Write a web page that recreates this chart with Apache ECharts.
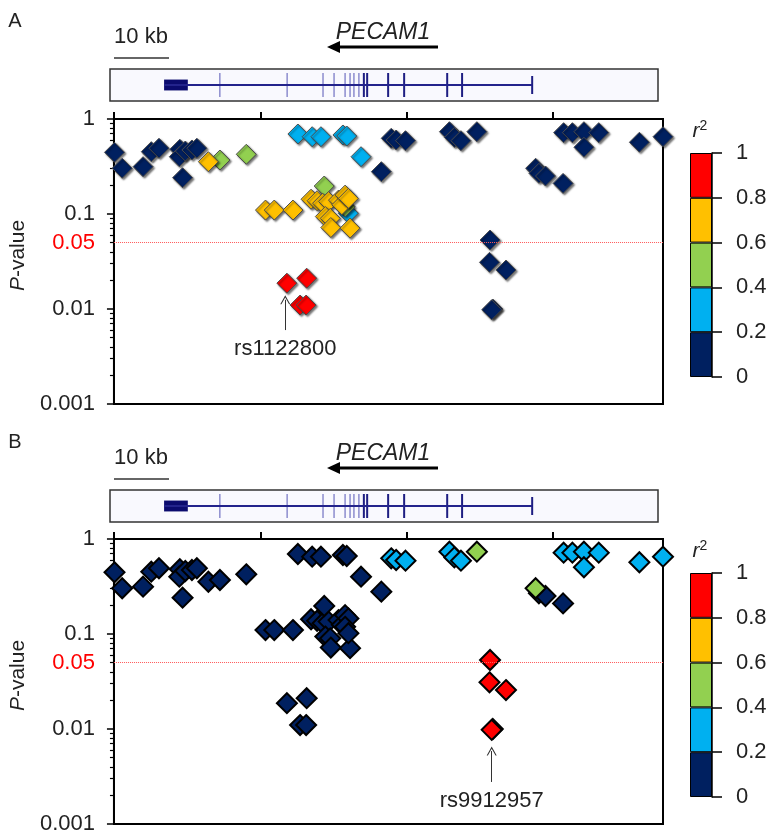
<!DOCTYPE html>
<html><head><meta charset="utf-8">
<script src="https://cdn.jsdelivr.net/npm/echarts@6/dist/echarts.min.js"></script>
<style>html,body{margin:0;padding:0;background:#fff}#c{width:771px;height:835px}</style>
</head><body><div id="c"></div><script>
// ---------- data ----------
const snpPosKb = [0.1,1.5,5.3,6.8,8.2,12.0,11.9,13.0,14.2,15.1,12.5,17.2,19.3,24.1,27.6,29.2,32.6,35.9,37.0,38.0,39.1,40.9,41.5,42.1,42.7,38.5,39.4,39.5,43.0,38.3,42.1,42.7,33.5,36.1,37.7,41.7,42.4,45.0,31.5,35.1,33.9,35.0,48.7,50.5,51.4,53.1,61.1,62.0,63.2,66.1,81.9,83.5,85.6,88.3,85.6,95.7,100.0,76.8,77.4,78.6,81.8,68.5,68.4,71.4,69.0,68.8];
const snpP = [0.446,0.303,0.315,0.453,0.492,0.480,0.401,0.46,0.472,0.492,0.241,0.355,0.370,0.425,0.110,0.110,0.110,0.143,0.138,0.130,0.135,0.140,0.125,0.158,0.146,0.094,0.090,0.072,0.071,0.197,0.119,0.102,0.695,0.651,0.651,0.679,0.662,0.401,0.0187,0.0211,0.0110,0.0110,0.279,0.626,0.601,0.591,0.735,0.64,0.591,0.735,0.718,0.718,0.735,0.718,0.504,0.569,0.651,0.303,0.268,0.251,0.210,0.0532,0.031,0.0257,0.0100,0.0098];
// r2 with rs1122800 (panel A) and with rs9912957 (panel B), bin mid-values
const r2PanelA = [0.1,0.1,0.1,0.1,0.1,0.1,0.1,0.1,0.1,0.1,0.1,0.7,0.5,0.5,0.7,0.7,0.7,0.7,0.7,0.7,0.7,0.7,0.7,0.7,0.7,0.7,0.7,0.7,0.7,0.5,0.5,0.3,0.3,0.3,0.3,0.3,0.3,0.3,0.9,0.9,0.9,0.9,0.1,0.1,0.1,0.1,0.1,0.1,0.1,0.1,0.1,0.1,0.1,0.1,0.1,0.1,0.1,0.1,0.1,0.1,0.1,0.1,0.1,0.1,0.1,0.1];
const r2PanelB = [0.1,0.1,0.1,0.1,0.1,0.1,0.1,0.1,0.1,0.1,0.1,0.1,0.1,0.1,0.1,0.1,0.1,0.1,0.1,0.1,0.1,0.1,0.1,0.1,0.1,0.1,0.1,0.1,0.1,0.1,0.1,0.1,0.1,0.1,0.1,0.1,0.1,0.1,0.1,0.1,0.1,0.1,0.1,0.3,0.3,0.3,0.3,0.3,0.3,0.5,0.3,0.3,0.3,0.3,0.3,0.3,0.3,0.5,0.1,0.1,0.1,0.9,0.9,0.9,0.9,0.9];
const r2BinEdges = [0,0.2,0.4,0.6,0.8,1];
const r2BinColors = ['#002060','#00B0F0','#92D050','#FFC000','#FF0000'];
const xTickKb = [0, 80/3, 160/3, 80];
const sigThreshold = 0.05;
const leadSnps = [
  {name:'rs1122800', kb:31.2, pTip:0.0125, pTail:0.0060},
  {name:'rs9912957', kb:68.8, pTip:0.00586, pTail:0.00277}
];
const geneSpanKb = [9.6, 76.3];
const utrBlockKb = [9.6, 13.9];
const lightExonKb = [19.7,31.9,38.4,40.4,42.4,43.3,44.0,44.9];
const darkExonKb = [45.8,46.4,50.2,53.1,60.9,63.6];
const geneEndKb = [76.3];
const panelLabels = ['A','B'];

// ---------- build ----------
const font = "'Liberation Sans', Arial, sans-serif";
const txt = '#222';
const chart = echarts.init(document.getElementById('c'), null, {renderer:'canvas'});
const grid=[], xAxis=[], yAxis=[], series=[], graphic=[], snpSeriesIdx=[];

function sortedData(r2){
  const idx = snpPosKb.map((_,i)=>i);
  idx.sort((a,b)=>(r2[a]-r2[b])||(a-b));
  return idx.map(i=>[snpPosKb[i], snpP[i], r2[i]]);
}

[0,1].forEach(p=>{
  const dy = p===0?0:420, dg = p===0?0:421;
  const r2 = p===0?r2PanelA:r2PanelB;
  const lead = leadSnps[p];
  const g0 = 3*p;
  // gene track
  grid.push({left:110, top:69+dg, width:548, height:32, show:true, backgroundColor:'#f9f9fe', borderColor:'#333', borderWidth:1.5});
  xAxis.push({gridIndex:g0, type:'value', min:-0.2, max:99.1, show:false});
  yAxis.push({gridIndex:g0, type:'value', min:-1, max:1, show:false});
  // plot
  grid.push({left:111, top:119+dy, width:552, height:285, show:true, borderColor:'#000', borderWidth:2});
  xAxis.push({gridIndex:g0+1, type:'value', min:0, max:100, interval:80/3, position:'top',
    axisLine:{show:true, lineStyle:{color:'#000', width:2}},
    axisTick:{show:true, inside:false, length:7, customValues:xTickKb, lineStyle:{color:'#000', width:2}},
    axisLabel:{show:false}, splitLine:{show:false}});
  yAxis.push({gridIndex:g0+1, type:'log', logBase:10, min:0.001, max:1,
    axisLine:{show:true, lineStyle:{color:'#000', width:2}},
    axisTick:{show:true, inside:false, length:7, lineStyle:{color:'#000', width:1.5}},
    minorTick:{show:true, splitNumber:9, length:4, lineStyle:{color:'#000', width:1.2}},
    axisLabel:{fontSize:22, color:txt, margin:19, fontFamily:font},
    splitLine:{show:false}, minorSplitLine:{show:false},
    name:'{i|P}-value', nameLocation:'middle', nameGap:72, nameRotate:90,
    nameTextStyle:{fontSize:21, color:txt, fontFamily:font, padding:[0,0,0,12], rich:{i:{fontStyle:'italic', fontSize:21, color:txt, fontFamily:font}}}});
  // colour bar
  grid.push({left:690, top:153+dy, width:22, height:224});
  xAxis.push({gridIndex:g0+2, type:'category', data:['r2'], show:false});
  yAxis.push({gridIndex:g0+2, type:'value', min:0, max:1, interval:0.2, position:'right',
    axisLine:{show:true, lineStyle:{color:'#000', width:1.5}},
    axisTick:{show:true, inside:false, length:10, lineStyle:{color:'#000', width:1.5}},
    axisLabel:{fontSize:22, color:txt, margin:24, fontFamily:font},
    splitLine:{show:false},
    name:'{i|r}{s|2}', nameLocation:'end', nameGap:10,
    nameTextStyle:{padding:[0,24,0,0], rich:{i:{fontStyle:'italic', fontSize:21, color:txt, fontFamily:font}, s:{fontSize:14, color:txt, fontFamily:font, verticalAlign:'top', padding:[0,0,10,0]}}}});

  // gene series
  series.push({type:'line', xAxisIndex:g0, yAxisIndex:g0, data:[[geneSpanKb[0],0],[geneSpanKb[1],0]], symbol:'none', silent:true,
    lineStyle:{color:'#23238c', width:2},
    markArea:{silent:true, itemStyle:{color:'#0b0b6e'}, data:[[{coord:[utrBlockKb[0],-0.34]},{coord:[utrBlockKb[1],0.34]}]]}});
  series.push({type:'scatter', xAxisIndex:g0, yAxisIndex:g0, symbol:'rect', symbolSize:[1.5,24], silent:true,
    itemStyle:{color:'#8c8cce', opacity:1}, data:lightExonKb.map(k=>[k,0])});
  series.push({type:'scatter', xAxisIndex:g0, yAxisIndex:g0, symbol:'rect', symbolSize:[2,24], silent:true,
    itemStyle:{color:'#1e1e82', opacity:1}, data:darkExonKb.map(k=>[k,0])});
  series.push({type:'scatter', xAxisIndex:g0, yAxisIndex:g0, symbol:'rect', symbolSize:[2,18], silent:true,
    itemStyle:{color:'#1e1e82', opacity:1}, data:geneEndKb.map(k=>[k,0])});

  // SNP scatter
  snpSeriesIdx.push(series.length);
  series.push({type:'scatter', xAxisIndex:g0+1, yAxisIndex:g0+1, symbol:'diamond', symbolSize:20, clip:false,
    data: sortedData(r2),
    itemStyle: p===0 ? {opacity:1, borderColor:'#4a4a4a', borderWidth:1, shadowColor:'rgba(0,0,0,0.55)', shadowBlur:2, shadowOffsetX:1.5, shadowOffsetY:1.5}
                     : {opacity:1, borderColor:'#000', borderWidth:2},
    markLine:{silent:true, symbol:['none','none'], animation:false,
      data:[
        {yAxis:sigThreshold, lineStyle:{color:'#ff5a5a', type:'dotted', width:1},
         label:{show:true, position:'start', formatter:String(sigThreshold), color:'#ff0000', fontSize:22, fontFamily:font, distance:19}},
        [{coord:[lead.kb, lead.pTail], symbol:'none',
          lineStyle:{color:'#333', width:1, type:'solid'},
          label:{show:true, position:'start', formatter:lead.name, color:txt, fontSize:22, fontFamily:font, distance:8}},
         {coord:[lead.kb, lead.pTip], symbol:'path://M0,12 L6,0 L12,12 L10.6,12 L6,3 L1.4,12 Z', symbolSize:[10,9]}]
      ]}});

  // colour bar segments
  r2BinColors.forEach((c,k)=>{
    series.push({type:'bar', xAxisIndex:g0+2, yAxisIndex:g0+2, stack:'cb'+p, barWidth:'100%', silent:true,
      data:[+(r2BinEdges[k+1]-r2BinEdges[k]).toFixed(2)], itemStyle:{color:c, borderColor:'#000', borderWidth:1}});
  });

  // decorations
  graphic.push({type:'text', x:15, y:21+dg, style:{text:panelLabels[p], fontSize:20, fontFamily:font, fill:txt, align:'center', verticalAlign:'middle'}});
  graphic.push({type:'text', x:141, y:37+dg, style:{text:'10 kb', fontSize:22, fontFamily:font, fill:txt, align:'center', verticalAlign:'middle'}});
  graphic.push({type:'line', shape:{x1:114, y1:58+dg, x2:169, y2:58+dg}, style:{stroke:'#333', lineWidth:1.5}});
  graphic.push({type:'text', x:383, y:33+dg, style:{text:'PECAM1', fontSize:23, fontStyle:'italic', fontFamily:font, fill:txt, align:'center', verticalAlign:'middle'}});
  graphic.push({type:'line', shape:{x1:336, y1:47+dg, x2:438, y2:47+dg}, style:{stroke:'#000', lineWidth:3}});
  graphic.push({type:'polygon', shape:{points:[[327,47+dg],[340,41+dg],[340,53+dg]]}, style:{fill:'#000'}});
});

chart.setOption({
  animation:false,
  textStyle:{fontFamily:font},
  grid, xAxis, yAxis, series, graphic,
  visualMap:{type:'piecewise', show:false, dimension:2, seriesIndex:snpSeriesIdx,
    pieces:r2BinColors.map((c,k)=>({gte:r2BinEdges[k], lt:r2BinEdges[k+1]+(k===4?0.001:0), color:c}))}
});
</script></body></html>
